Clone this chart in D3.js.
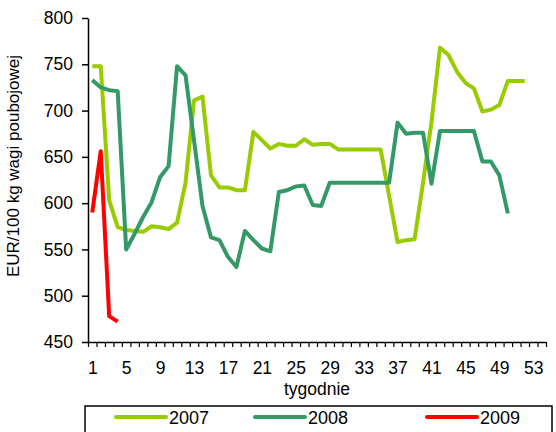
<!DOCTYPE html>
<html>
<head>
<meta charset="utf-8">
<script src="https://cdn.jsdelivr.net/npm/d3@7"></script>
<style>
  body { margin: 0; background: #fff; }
  svg text { font-family: "Liberation Sans", Arial, sans-serif; fill: #000; }
</style>
</head>
<body>
<div id="chart"></div>
<script>
// weekly values, EUR/100 kg
const weeks = d3.range(1, 55);
const tickWeeks = [1, 5, 9, 13, 17, 21, 25, 29, 33, 37, 41, 45, 49, 53];
const yTicks = [450, 500, 550, 600, 650, 700, 750, 800];

const s2007 = [748, 748, 603, 574, 571, 570, 569, 575, 574, 572,
               579, 622, 711, 715, 630, 617, 617, 614, 614, 677,
               668, 659, 664, 662, 662, 669, 663, 664, 664, 658,
               658, 658, 658, 658, 658, 608, 558, 560, 561, 622,
               688, 768, 760, 742, 730, 724, 699, 701, 706, 732,
               732, 732];
const s2008 = [733, 725, 722, 721, 550, 567, 585, 601, 628, 640,
               748, 738, 668, 597, 563, 560, 542, 531, 570, 560,
               551, 548, 612, 614, 618, 619, 598, 597, 622, 622,
               622, 622, 622, 622, 622, 622, 687, 675, 676, 676,
               621, 678, 678, 678, 678, 678, 645, 645, 630, 589];
const s2009 = [590, 656, 478, 472];

const series = [
  { name: "2007", values: s2007, color: "#99cc00" },
  { name: "2008", values: s2008, color: "#339966" },
  { name: "2009", values: s2009, color: "#ff0000" }
];

const W = 556, H = 432;
const svg = d3.select("#chart").append("svg")
  .attr("width", W).attr("height", H);

// scales
const x = d3.scaleLinear().domain([0.5, weeks.length + 0.5]).range([88, 546]);
const y = d3.scaleLinear().domain([450, 800]).range([342, 18]);

// y axis
const yAxis = svg.append("g")
  .attr("transform", "translate(88,0)")
  .call(d3.axisLeft(y).tickValues(yTicks).tickSize(6).tickSizeOuter(0).tickPadding(9));
yAxis.select(".domain").attr("stroke", "#000").attr("stroke-width", 1.5);
yAxis.selectAll(".tick line").attr("stroke", "#000").attr("stroke-width", 1.5);
yAxis.selectAll("text").style("font-size", "17.5px");

// x axis: small ticks between weeks
const xTicks = svg.append("g")
  .attr("transform", "translate(0,342)")
  .call(d3.axisBottom(x)
    .tickValues(d3.range(0.5, weeks.length + 1, 1))
    .tickSize(5).tickSizeOuter(0).tickFormat(""));
xTicks.select(".domain").attr("stroke", "#000").attr("stroke-width", 1.5);
xTicks.selectAll(".tick line").attr("stroke", "#000").attr("stroke-width", 1.2);

// x labels
const xLabels = svg.append("g")
  .attr("transform", "translate(0,342)")
  .call(d3.axisBottom(x).tickValues(tickWeeks).tickSize(0).tickPadding(20));
xLabels.select(".domain").remove();
xLabels.selectAll("text").style("font-size", "17.5px");

// titles
svg.append("text")
  .attr("x", 317).attr("y", 395)
  .attr("text-anchor", "middle")
  .style("font-size", "17.5px")
  .text("tygodnie");

svg.append("text")
  .attr("transform", "translate(19,166) rotate(-90)")
  .attr("text-anchor", "middle")
  .style("font-size", "17px")
  .text("EUR/100 kg wagi poubojowej");

// lines
const line = d3.line()
  .x((d, i) => x(weeks[i]))
  .y(d => y(d));

svg.selectAll(".series")
  .data(series)
  .join("path")
  .attr("class", "series")
  .attr("fill", "none")
  .attr("stroke", d => d.color)
  .attr("stroke-width", 4)
  .attr("stroke-linejoin", "round")
  .attr("d", d => line(d.values));

// legend
svg.append("rect")
  .attr("x", 85).attr("y", 406)
  .attr("width", 467).attr("height", 40)
  .attr("fill", "none")
  .attr("stroke", "#000")
  .attr("stroke-width", 1.5);

const legendX = [116, 255, 427];
const leg = svg.selectAll(".leg")
  .data(series)
  .join("g")
  .attr("class", "leg")
  .attr("transform", (d, i) => `translate(${legendX[i]},417)`);
leg.append("line")
  .attr("x1", 0).attr("x2", 50)
  .attr("stroke", d => d.color)
  .attr("stroke-width", 4)
  .attr("stroke-linecap", "round");
leg.append("text")
  .attr("x", 53).attr("y", 6.5)
  .style("font-size", "18px")
  .text(d => d.name);
</script>
</body>
</html>
